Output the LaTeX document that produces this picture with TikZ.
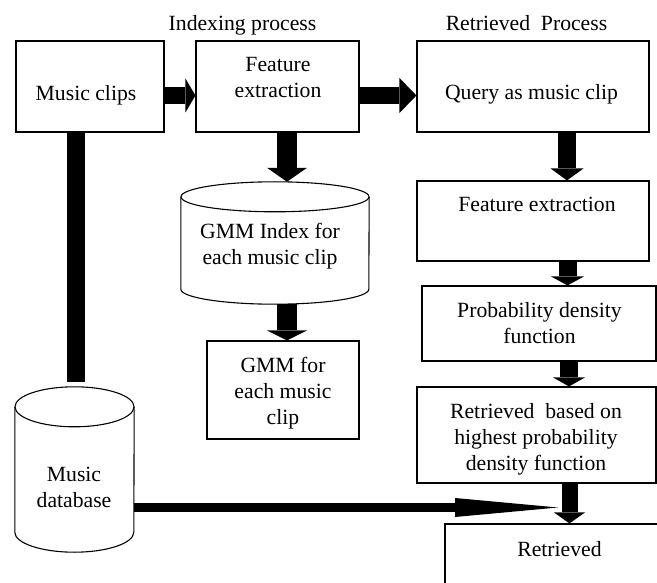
\documentclass[tikz,border=0pt]{standalone}
\usepackage{fontspec}
\setmainfont{LiberationSerif}[Extension=.ttf, UprightFont=*-Regular, BoldFont=*-Bold]
\usetikzlibrary{arrows.meta,calc}
\begin{document}
\begin{tikzpicture}[x=1pt,y=1pt,
  box/.style={draw, line width=1.1pt, inner sep=0pt},
  frame/.style={inner sep=0pt},
  cyl/.style={line width=1.1pt},
  txt/.style={font=\rmfamily\fontsize{21.7pt}{26pt}\selectfont, align=center, inner sep=0pt, anchor=north},
  fat/.style n args={3}{line width=#1pt, -{Triangle[width=#2pt,length=#3pt,line width=0pt]}}]
\useasboundingbox (0,0) rectangle (657,-583);
\clip (0,0) rectangle (657,-583);

% boxes
\node[box, minimum width=148pt, minimum height=91pt] (clips) at (90,-86.5) {};
\node[box, minimum width=163pt, minimum height=91pt] (fe1) at (277.5,-86.5) {};
\node[box, minimum width=232pt, minimum height=91pt] (query) at (533,-86.5) {};
\node[box, minimum width=232pt, minimum height=80pt] (fe2) at (533,-221) {};
\node[box, minimum width=234pt, minimum height=75pt] (pdf) at (539,-323.5) {};
\node[box, minimum width=239pt, minimum height=96pt] (rb) at (536.5,-435) {};
\node[box, minimum width=230pt, minimum height=76pt] (ret) at (560,-562) {};
\node[box, minimum width=152pt, minimum height=98pt] (gfor) at (283,-390) {};

% cylinders
\node[frame, minimum width=188pt, minimum height=122pt] (gidx) at (275,-243) {};
\draw[cyl] ($(gidx.north)+(0,-15)$) ellipse [x radius=94, y radius=15];
\draw[cyl] ($(gidx.north west)+(0,-15)$) -- ($(gidx.south west)+(0,15)$)
  arc[start angle=180, end angle=360, x radius=94, y radius=15]
  -- ($(gidx.north east)+(0,-15)$);
\node[frame, minimum width=119pt, minimum height=165pt] (db) at (74.5,-469.5) {};
\draw[cyl] ($(db.north)+(0,-20)$) ellipse [x radius=59.5, y radius=20];
\draw[cyl] ($(db.north west)+(0,-20)$) -- ($(db.south west)+(0,20)$)
  arc[start angle=180, end angle=360, x radius=59.5, y radius=20]
  -- ($(db.north east)+(0,-20)$);

% texts
\node[txt] (t-index) at (242.5,-15.2) {Indexing process};
\node[txt] (t-retp) at (526.5,-15.2) {Retrieved\ \ Process};
\node[txt] (t-clips) at (86,-85.2) {Music clips};
\node[txt] (t-fe1) at (278,-57.2) {Feature\\extraction};
\node[txt] (t-query) at (531.5,-84.2) {Query as music clip};
\node[txt] (t-fe2) at (537,-197.2) {Feature extraction};
\node[txt] (t-pdf) at (539.5,-302.2) {Probability density\\function};
\node[txt] (t-rb) at (536,-403.2) {Retrieved\ \ based on\\highest probability\\density function};
\node[txt] (t-ret) at (559.5,-541.2) {Retrieved};
\node[txt] (t-gidx) at (270,-223.2) {GMM Index for\\each music clip};
\node[txt] (t-gfor) at (283,-357.2) {GMM for\\each music\\clip};
\node[txt] (t-db) at (74,-467.2) {Music\\database};

% connectors
\coordinate (join) at (558,-507.5);
\draw[fat={17}{34}{10}] ($(clips.east)+(0,-9)$) -- ($(fe1.west)+(0,-9)$);
\draw[fat={17}{35}{17}] ($(fe1.east)+(0,-9)$) -- ($(query.west)+(0,-9)$);
\draw[fat={18}{33}{12}] ($(query.south)+(34,0)$) -- ($(fe2.north)+(34,0)$);
\draw[fat={18}{33}{9}] ($(fe2.south)+(34.5,0)$) -- ($(pdf.north)+(28.5,0)$);
\draw[fat={18}{32}{9}] ($(pdf.south)+(30,0)$) -- ($(rb.north)+(32.5,0)$);
\draw[fat={16}{31}{11}] ($(rb.south)+(33,0)$) -- ($(ret.north)+(9.5,0)$);
\draw[fat={20}{40}{14}] ($(fe1.south)+(9.5,0)$) -- ($(gidx.north)+(12,0)$);
\draw[fat={20}{40}{10}] ($(gidx.south)+(12,0)$) -- ($(gfor.north)+(4,0)$);
\draw[line width=18pt] ($(clips.south)+(-14,0)$) -- ($(db.north)+(1.5,5)$);
\draw[fat={9.5}{19}{103}] ($(db.east)+(0,-38)$) -- (join);
\end{tikzpicture}
\end{document}
